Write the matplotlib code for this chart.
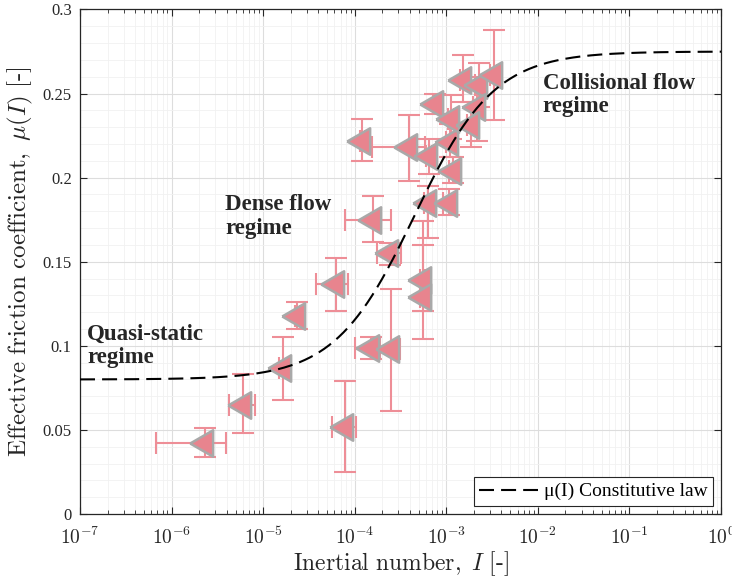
import matplotlib
matplotlib.use("Agg")
import matplotlib.pyplot as plt
import numpy as np
from matplotlib.ticker import LogLocator, FixedLocator, NullFormatter, FuncFormatter

# measured points: inertial number and friction coefficient
I_mid = [2.33e-6, 6.1e-6, 1.66e-5, 2.36e-5, 6.3e-5, 7.9e-5, 1.49e-4, 2.52e-4,
         2.4e-4, 1.6e-4, 1.21e-4, 3.96e-4, 5.5e-4, 5.5e-4, 6.24e-4, 1.06e-3,
         6.4e-4, 1.11e-3, 1.17e-3, 7.6e-4, 1.13e-3, 1.52e-3, 2.25e-3, 3.3e-3,
         2.14e-3, 1.85e-3]
I_low = [6.8e-7, 4.2e-6, 1.5e-5, 2.2e-5, 3.8e-5, 5.7e-5, 1.0e-4, 1.91e-4,
         1.77e-4, 7.9e-5, 1.15e-4, 1.56e-4, 5.2e-4, 5.2e-4, 5.7e-4, 9.2e-4,
         6.0e-4, 1.0e-3, 1.08e-3, 7.1e-4, 1.05e-3, 1.4e-3, 2.05e-3, 3.0e-3,
         1.95e-3, 1.7e-3]
I_high = [3.95e-6, 8.2e-6, 1.8e-5, 2.55e-5, 8.5e-5, 1.02e-4, 1.82e-4, 3.16e-4,
          3.24e-4, 2.46e-4, 1.3e-4, 5.9e-4, 5.8e-4, 5.8e-4, 6.9e-4, 1.25e-3,
          6.9e-4, 1.22e-3, 1.27e-3, 8.2e-4, 1.22e-3, 1.65e-3, 2.45e-3, 3.6e-3,
          2.35e-3, 2.0e-3]
mu_mid = [0.042, 0.065, 0.087, 0.118, 0.137, 0.052, 0.099, 0.098,
          0.155, 0.175, 0.222, 0.218, 0.139, 0.129, 0.185, 0.185,
          0.213, 0.221, 0.204, 0.244, 0.235, 0.258, 0.255, 0.261,
          0.242, 0.2315]
mu_low = [0.034, 0.048, 0.068, 0.110, 0.121, 0.025, 0.092, 0.061,
          0.148, 0.162, 0.210, 0.198, 0.121, 0.104, 0.164, 0.178,
          0.202, 0.212, 0.197, 0.238, 0.223, 0.245, 0.242, 0.2345,
          0.222, 0.218]
mu_high = [0.051, 0.083, 0.105, 0.126, 0.152, 0.079, 0.105, 0.134,
           0.161, 0.189, 0.235, 0.237, 0.174, 0.160, 0.195, 0.193,
           0.223, 0.232, 0.212, 0.250, 0.249, 0.273, 0.268, 0.288,
           0.260, 0.245]

# mu(I) constitutive law parameters
mu_s = 0.08
mu_2 = 0.275
I_0 = 4.5e-4

y_ticks = [0, 0.05, 0.1, 0.15, 0.2, 0.25, 0.3]
y_tick_labels = ["0", "0.05", "0.1", "0.15", "0.2", "0.25", "0.3"]

plt.rcParams.update({
    "font.family": ["Liberation Serif", "DejaVu Serif"],
    "mathtext.fontset": "cm",
    "xtick.direction": "in",
    "ytick.direction": "in",
})

pink = "#EE8E97"
fill = "#E8848E"
edge = "#A9A9A9"
dark = "#262626"

# equilateral left-pointing triangle, like the matlab '<' marker
tri_left = [(-1.0, 0.0), (0.5, 0.866), (0.5, -0.866), (-1.0, 0.0)]

fig = plt.figure(figsize=(7.32, 5.78), dpi=100)
ax = fig.add_axes([0.1093, 0.1107, 0.8757, 0.8729])

I_mid = np.array(I_mid)
mu_mid = np.array(mu_mid)
xerr = [I_mid - np.array(I_low), np.array(I_high) - I_mid]
yerr = [mu_mid - np.array(mu_low), np.array(mu_high) - mu_mid]

ax.errorbar(I_mid, mu_mid, xerr=xerr, yerr=yerr, fmt="none", ecolor=pink,
            elinewidth=1.5, capsize=8, capthick=1.5, zorder=2)
ax.plot(I_mid, mu_mid, marker=tri_left, ms=22, mfc=fill, mec=edge, mew=1.8,
        linestyle="none", zorder=3)

I_law = np.logspace(-7, 0, 400)
mu_law = mu_s + (mu_2 - mu_s) / (I_0 / I_law + 1)
ax.plot(I_law, mu_law, color="black", lw=1.5, ls=(0, (7.2, 3.4)),
        label="\u03bc(I) Constitutive law", zorder=4)

ax.set_xscale("log")
ax.set_xlim(1e-7, 1e0)
ax.set_ylim(0, 0.3)
ax.xaxis.set_major_locator(LogLocator(base=10, numticks=10))
ax.xaxis.set_major_formatter(FuncFormatter(lambda v, p: r"$10^{%d}$" % round(np.log10(v))))
ax.xaxis.set_minor_locator(LogLocator(base=10, subs=np.arange(2, 10), numticks=100))
ax.xaxis.set_minor_formatter(NullFormatter())
ax.set_yticks(y_ticks)
ax.set_yticklabels(y_tick_labels)
ax.yaxis.set_minor_locator(FixedLocator(np.arange(0, 0.301, 0.01)))

ax.grid(True, which="major", color="#DDDDDD", lw=0.8)
ax.grid(True, which="minor", color="#F1F1F1", lw=0.6)
ax.set_axisbelow(True)
ax.tick_params(which="both", top=True, right=True, colors=dark)
ax.tick_params(axis="x", which="major", labelsize=14, pad=9)
ax.tick_params(axis="y", which="major", labelsize=12, pad=6)
ax.tick_params(which="major", length=5, width=0.8)
ax.tick_params(axis="x", which="minor", length=3, width=0.6)
ax.tick_params(axis="y", which="minor", length=0)
for s in ax.spines.values():
    s.set_color(dark)
    s.set_linewidth(0.9)

ax.set_xlabel(r"$\mathrm{Inertial\ number,}\ I\ [\text{-}]$", fontsize=17,
              color=dark, labelpad=1)
ax.set_ylabel(r"$\mathrm{Effective\ friction\ coefficient,}\ \mu(I)\ [\text{-}]$",
              fontsize=18, color=dark, labelpad=5)

ax.text(1.2e-7, 0.100, "Quasi-static\nregime", fontsize=16.5, fontweight="bold",
        color=dark, va="center", ha="left", linespacing=1.15)
ax.text(3.85e-6, 0.177, "Dense flow\nregime", fontsize=16.5, fontweight="bold",
        color=dark, va="center", ha="left", linespacing=1.15)
ax.text(1.13e-2, 0.249, "Collisional flow\nregime", fontsize=16.5, fontweight="bold",
        color=dark, va="center", ha="left", linespacing=1.15)

leg = ax.legend(loc="lower right", fontsize=14, fancybox=False, framealpha=1,
                edgecolor=dark, handlelength=3.0, borderaxespad=0.4,
                borderpad=0.3, handletextpad=0.3)
leg.get_frame().set_linewidth(0.8)

fig.savefig("out.png", dpi=100)
